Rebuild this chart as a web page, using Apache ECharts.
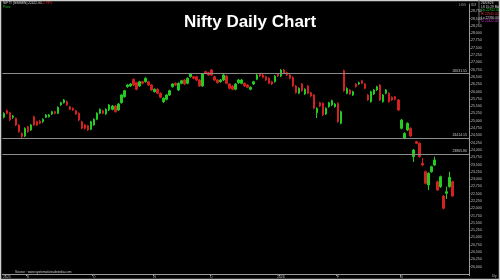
<!DOCTYPE html>
<html>
<head>
<meta charset="utf-8">
<script src="https://cdn.jsdelivr.net/npm/echarts@6/dist/echarts.min.js"></script>
<style>html,body{margin:0;padding:0;background:#000;}#c{width:500px;height:280px;}</style>
</head>
<body>
<div id="c"></div>
<script>
// ---- data ----
const opens = [25118,25344,25276,25118,25084,24855,24570,24478,24796,24683,
25139,24968,24992,24968,25118,25139,25231,25310,25255,25540,
25618,25653,25481,25427,25344,25255,24968,24855,24831,24707,
24855,25050,25255,25344,25231,25368,25392,25505,25368,25618,
25824,26167,26191,26420,26304,26191,26338,26338,26338,26225,
25995,26078,25941,25653,25735,25882,26167,26283,26054,26283,
26396,26283,26509,26509,26509,26396,26191,26681,26646,26739,
26509,26396,26338,26396,26533,26259,26191,26078,26304,26283,
26283,26225,26078,26259,26420,26602,26567,26509,26454,26338,
26338,26602,26533,26739,26646,26567,26489,26191,25941,26259,
25917,26191,25961,25882,25276,25618,25598,25231,25481,25540,
25481,25598,24913,26715,25941,26054,25882,26259,26259,26372,
26259,25882,25653,25917,26054,26225,25653,25941,25941,25804,
25824,25711,24741,24399,24683,24741,23769,24282,24228,23542,
23255,22799,23255,23484,22912,22741,22422,22515,22741,22912];
const closes = [25255,25255,25026,25163,24855,24625,24454,24741,24625,24855,
24855,24855,24913,25050,25197,25197,25310,25255,25461,25618,
25711,25540,25392,25368,25231,25026,24741,24741,24683,24968,
25050,25255,25392,25255,25392,25540,25505,25310,25574,25882,
26030,26225,26259,26225,26078,26338,26283,26454,26225,26054,
26078,25941,25804,25769,25882,26030,26259,26225,26283,26372,
26259,26454,26602,26454,26396,26191,26602,26626,26567,26567,
26396,26304,26396,26567,26283,26112,26078,26259,26396,26396,
26191,26146,26146,26338,26567,26533,26489,26396,26283,26259,
26533,26533,26739,26626,26567,26454,26191,25961,26112,26030,
26078,25941,25848,25427,25427,25505,25197,25427,25618,25687,
25574,24968,25310,26030,26112,25917,25995,26167,26304,26283,
26112,25711,25995,26054,26167,25711,25882,26054,25653,25711,
25735,25368,25026,24570,24913,24478,23998,24228,23769,23484,
22857,23200,23426,23655,22628,23083,22001,22569,23063,22422];
const lows = [25080,25220,24990,25060,24820,24590,24410,24440,24590,24650,
24820,24820,24880,24930,25090,25110,25200,25220,25230,25510,
25590,25510,25360,25335,25200,24990,24710,24700,24650,24675,
24830,25020,25225,25225,25200,25335,25360,25280,25335,25590,
25795,26130,26160,26190,26045,26160,26250,26305,26190,26020,
25965,25910,25770,25610,25700,25850,26135,26190,26020,26250,
26225,26250,26475,26420,26360,26160,26160,26595,26535,26535,
26360,26270,26305,26360,26250,26080,26045,26045,26270,26250,
26160,26115,26045,26225,26390,26500,26455,26360,26250,26225,
26305,26500,26500,26595,26535,26420,26160,25930,25910,25995,
25885,25910,25815,25395,25094,25470,25160,25200,25450,25510,
25450,24935,24880,25995,25910,25885,25850,26135,26225,26250,
26080,25680,25620,25885,26020,25680,25620,25910,25620,25680,
25700,25335,24705,24365,24650,24445,23587,24195,23735,23450,
22820,22628,23220,23450,22595,22700,21965,22320,22705,22390];
const highs = [25290,25380,25310,25200,25110,24880,24600,24770,24830,24890,
25170,25000,25030,25080,25230,25230,25340,25340,25490,25650,
25745,25690,25510,25460,25375,25285,25000,24885,24860,25000,
25080,25290,25425,25380,25425,25570,25540,25540,25605,25915,
26060,26260,26290,26450,26335,26370,26370,26490,26370,26255,
26110,26110,25975,25800,25915,26060,26290,26315,26315,26405,
26430,26490,26635,26540,26540,26430,26635,26715,26680,26775,
26540,26430,26430,26600,26565,26290,26225,26290,26430,26430,
26315,26255,26180,26370,26600,26635,26600,26540,26490,26370,
26565,26635,26770,26775,26680,26600,26520,26225,26145,26290,
26110,26225,25995,25915,25460,25650,25630,25460,25650,25720,
25605,25630,25345,26750,26145,26085,26030,26290,26340,26405,
26290,25915,26030,26085,26200,26255,25915,26085,25975,25835,
25855,25745,25060,24605,24945,24775,24030,24315,24260,23725,
23290,23235,23460,23769,22945,23120,22455,22741,23255,22945];
const levels = [26631.55, 24414.15, 23865.80];
const slotCount = 155;                       // trading-day slots incl. empty right margin
const categories = Array.from({length: slotCount}, (_, i) => 'D' + (i + 1));
const tickIndex = [1, 8, 30, 50, 69, 92, 111, 132];
const tickText  = ['2025', 'S', 'O', 'N', 'D', '2026', 'F', 'M'];
const yMin = 19750, yMax = 29000, yStep = 250;
// -------------------------------------

const ohlc = opens.map((o, i) => [o, closes[i], lows[i], highs[i]]);
const n = opens.length;
const lastC = closes[n - 1], prevC = closes[n - 2];
const pct = ((lastC - prevC) / prevC * 100).toFixed(2);
const fmt = v => v.toLocaleString('en-US');
const UP = '#22cc22', DN = '#d42020';
const F = 'Liberation Sans, Arial, sans-serif';

const chart = echarts.init(document.getElementById('c'), null, {renderer: 'canvas'});
chart.setOption({
  animation: false,
  backgroundColor: '#000',
  title: {
    text: 'Nifty Daily Chart', left: 'center', top: 9,
    textStyle: {color: '#fff', fontSize: 17, fontWeight: 'bold', fontFamily: F}
  },
  grid: {left: 1, right: 31, top: 4, bottom: 6},
  xAxis: {
    type: 'category', data: categories, boundaryGap: true,
    axisLine: {lineStyle: {color: '#9a9a9a', width: 1}},
    axisTick: {show: true, length: 2, interval: (i) => tickIndex.includes(i), lineStyle: {color: '#9a9a9a'}},
    axisLabel: {
      interval: (i) => tickIndex.includes(i),
      formatter: (v, i) => tickText[tickIndex.indexOf(i)] || '',
      color: '#bdbdbd', fontSize: 3.5, margin: 1, fontFamily: F
    },
    splitLine: {show: false}
  },
  yAxis: {
    type: 'value', position: 'right', min: yMin, max: yMax, interval: yStep,
    axisLine: {show: true, lineStyle: {color: '#9a9a9a', width: 1}},
    axisTick: {show: true, length: 1.5, lineStyle: {color: '#9a9a9a'}},
    axisLabel: {
      color: '#c4c4c4', fontSize: 3.5, margin: 2, fontFamily: F,
      showMinLabel: false, showMaxLabel: false,
      formatter: v => fmt(v)
    },
    splitLine: {show: false}
  },
  series: [{
    type: 'candlestick',
    data: ohlc,
    barWidth: 2,
    itemStyle: {color: UP, color0: DN, borderColor: UP, borderColor0: DN, borderWidth: 1},
    markLine: {
      symbol: ['none', 'none'], silent: true, animation: false,
      data: levels.map(v => ({
        yAxis: v,
        lineStyle: {color: '#8c8c8c', width: 1, type: 'solid'},
        label: {show: true, position: 'insideEndTop', distance: [2, 0.5], formatter: v.toFixed(2),
                color: '#c8c8c8', fontSize: 3.5, fontFamily: F}
      })).concat([{
        yAxis: lastC,
        lineStyle: {opacity: 0},
        label: {show: true, position: 'end', distance: 1, formatter: fmt(lastC) + '.00',
                color: '#000', backgroundColor: '#e6e6e6', padding: [1, 1.5],
                fontSize: 3.5, fontFamily: F}
      }])
    }
  }],
  graphic: [
    {type: 'text', left: 3, top: 2, style: {text: 'NIFTY [NSEMIN] ' + lastC.toFixed(2), fill: '#d8d8d8', fontSize: 3.2, fontFamily: F}},
    {type: 'text', left: 42, top: 2, style: {text: pct + '%', fill: '#e03030', fontSize: 3.2, fontFamily: F}},
    {type: 'text', left: 3, top: 6, style: {text: 'Price', fill: '#22cc22', fontSize: 3.2, fontFamily: F}},
    {type: 'text', left: 459, top: 4, style: {text: 'LOG', fill: '#bdbdbd', fontSize: 3.2, fontFamily: F}},
    {type: 'text', left: 471, top: 4, style: {text: 'IDX', fill: '#bdbdbd', fontSize: 3.2, fontFamily: F}},
    {type: 'text', left: 481, top: 1.5, style: {text: '26/03/26', fill: '#d8d8d8', fontSize: 3.2, fontFamily: F}},
    {type: 'text', left: 481, top: 5.2, style: {text: 'LS 15:29 Mo', fill: '#d8d8d8', fontSize: 3.2, fontFamily: F}},
    {type: 'text', left: 481, top: 8.9, style: {text: 'Op ' + opens[n-1].toFixed(2), fill: '#22cc22', fontSize: 3.2, fontFamily: F}},
    {type: 'text', left: 481, top: 12.6, style: {text: 'Hi ' + highs[n-1].toFixed(2), fill: '#e03030', fontSize: 3.2, fontFamily: F}},
    {type: 'text', left: 481, top: 16.3, style: {text: 'Lo ' + lows[n-1].toFixed(2), fill: '#d8d8d8', fontSize: 3.2, fontFamily: F}},
    {type: 'text', left: 481, top: 20, style: {text: 'Cl ' + closes[n-1].toFixed(2), fill: '#cc33cc', fontSize: 3.2, fontFamily: F}},
    {type: 'text', left: 15, top: 270.5, style: {text: 'Source : www.systematictradeindia.com', fill: '#cfcfcf', fontSize: 3.2, fontFamily: F}},
    {type: 'text', left: 492, top: 275, style: {text: 'Dly', fill: '#bdbdbd', fontSize: 3.2, fontFamily: F}},
    {type: 'rect', shape: {x: 0.5, y: 0.5, width: 499, height: 279}, style: {fill: 'none', stroke: '#cfcfcf', lineWidth: 1.5}, silent: true},
    {type: 'line', shape: {x1: 479, y1: 0, x2: 479, y2: 24}, style: {stroke: '#6a6a6a', lineWidth: 1}, silent: true}
  ]
});
</script>
</body>
</html>
